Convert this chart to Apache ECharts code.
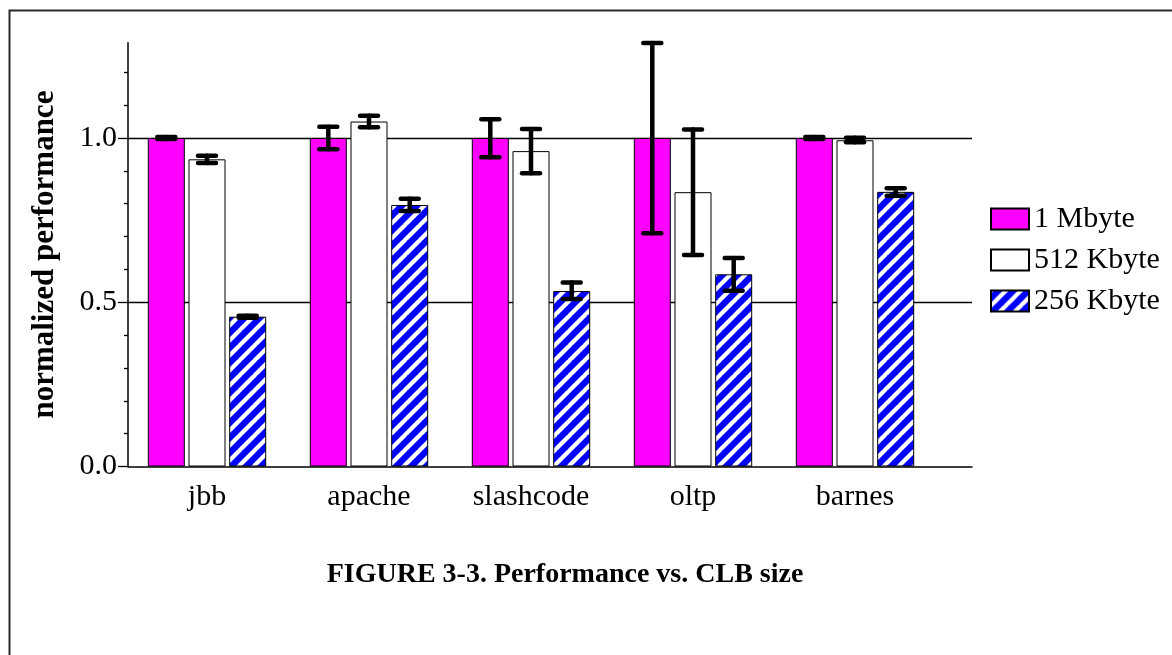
<!DOCTYPE html>
<html>
<head>
<meta charset="utf-8">
<script src="https://cdn.jsdelivr.net/npm/echarts@6/dist/echarts.min.js"></script>
<style>
html,body{margin:0;padding:0;background:#fff;}
#chart{width:1172px;height:655px;}
</style>
</head>
<body>
<div id="chart"></div>
<script>
// ---- data ----
var categories = ['jbb', 'apache', 'slashcode', 'oltp', 'barnes'];
var seriesNames = ['1 Mbyte', '512 Kbyte', '256 Kbyte'];
var mb1 = [1.0, 1.0, 1.0, 1.0, 1.0];
var kb512 = [0.935, 1.050, 0.960, 0.835, 0.993];
var kb256 = [0.456, 0.796, 0.534, 0.585, 0.836];
var mb1Low = [0.997, 0.966, 0.941, 0.710, 0.997];
var mb1High = [1.003, 1.034, 1.057, 1.289, 1.003];
var kb512Low = [0.924, 1.033, 0.893, 0.644, 0.987];
var kb512High = [0.946, 1.068, 1.027, 1.026, 1.001];
var kb256Low = [0.453, 0.778, 0.510, 0.535, 0.824];
var kb256High = [0.459, 0.815, 0.560, 0.635, 0.847];
var yTickLabels = [0, 0.5, 1.0];
var yMinorTicks = [0.1, 0.2, 0.3, 0.4, 0.6, 0.7, 0.8, 0.9, 1.1, 1.2];
var yMax = 1.29;

// ---- styles ----
var FONT = 'Liberation Serif';
var BAR_W = 37;
var BAR_GAP_RATIO = 0.1;

function makeHatch() {
  var s = 15;
  var c = document.createElement('canvas');
  c.width = s; c.height = s;
  var g = c.getContext('2d');
  g.fillStyle = '#0000ff';
  g.fillRect(0, 0, s, s);
  g.strokeStyle = '#ffffff';
  g.lineWidth = 4.2;
  for (var k = -s; k <= s; k += s) {
    g.beginPath();
    g.moveTo(k - 1, s + 1);
    g.lineTo(k + s + 1, -1);
    g.stroke();
  }
  return c;
}
var hatch = makeHatch();

var barColors = ['#ff00ff', '#ffffff', {image: hatch, repeat: 'repeat'}];
var barData = [mb1, kb512, kb256];
var errData = [[mb1Low, mb1High], [kb512Low, kb512High], [kb256Low, kb256High]];

var series = [];
barData.forEach(function (d, k) {
  series.push({
    name: seriesNames[k],
    type: 'bar',
    xAxisIndex: 0,
    yAxisIndex: 0,
    data: d,
    barWidth: BAR_W,
    barGap: (BAR_GAP_RATIO * 100) + '%',
    itemStyle: {color: barColors[k], borderColor: '#000', borderWidth: 1},
    emphasis: {disabled: true},
    z: 2
  });
});

errData.forEach(function (e, k) {
  var offset = (k - 1) * BAR_W * (1 + BAR_GAP_RATIO);
  series.push({
    name: 'err' + k,
    type: 'custom',
    xAxisIndex: 0,
    yAxisIndex: 0,
    z: 5,
    silent: true,
    encode: {x: 0, y: [1, 2]},
    data: categories.map(function (c, i) { return [i, e[0][i], e[1][i]]; }),
    renderItem: function (params, api) {
      var i = api.value(0);
      var pHi = api.coord([i, api.value(2)]);
      var pLo = api.coord([i, api.value(1)]);
      var cx = pHi[0] + offset;
      var hw = 9;
      var st = {stroke: '#000', lineWidth: 4.5, lineCap: 'round'};
      return {
        type: 'group',
        children: [
          {type: 'line', shape: {x1: cx, y1: pHi[1], x2: cx, y2: pLo[1]}, style: st},
          {type: 'line', shape: {x1: cx - hw, y1: pHi[1], x2: cx + hw, y2: pHi[1]}, style: st},
          {type: 'line', shape: {x1: cx - hw, y1: pLo[1], x2: cx + hw, y2: pLo[1]}, style: st}
        ]
      };
    }
  });
});

var chart = echarts.init(document.getElementById('chart'), null, {renderer: 'canvas'});
chart.setOption({
  animation: false,
  backgroundColor: '#ffffff',
  textStyle: {fontFamily: FONT},
  grid: [
    {left: 126, top: 42.7, width: 810, bottom: 188.5, containLabel: false},
    {left: 128, top: 42.7, width: 844, bottom: 188.5, containLabel: false}
  ],
  legend: {
    data: seriesNames,
    orient: 'vertical',
    left: 985,
    top: 199,
    itemWidth: 38,
    itemHeight: 21,
    itemGap: 11,
    selectedMode: false,
    icon: 'rect',
    textStyle: {fontFamily: FONT, fontSize: 30, color: '#000', lineHeight: 30}
  },
  xAxis: [
    {
      type: 'category', gridIndex: 0, data: categories,
      axisLine: {show: false}, axisTick: {show: false},
      axisLabel: {fontFamily: FONT, fontSize: 30, color: '#000', margin: 16, lineHeight: 30}
    },
    {
      type: 'value', gridIndex: 1, min: 0, max: 1,
      axisLine: {show: true, onZero: false, lineStyle: {color: '#000', width: 1.5}},
      axisTick: {show: false}, axisLabel: {show: false}, splitLine: {show: false}
    }
  ],
  yAxis: [
    {type: 'value', gridIndex: 0, min: 0, max: yMax, show: false},
    {
      type: 'value', gridIndex: 1, position: 'left', min: 0, max: yMax, interval: 0.5,
      name: 'normalized performance', nameLocation: 'middle', nameGap: 68,
      nameTextStyle: {fontFamily: FONT, fontSize: 31, fontWeight: 'bold', color: '#000'},
      axisLine: {show: true, lineStyle: {color: '#000', width: 1.5}},
      axisTick: {show: true, length: 10, customValues: yTickLabels, lineStyle: {color: '#000', width: 1.3}},
      axisLabel: {
        customValues: yTickLabels, fontFamily: FONT, fontSize: 30, color: '#000', margin: 11,
        formatter: function (v) { return v.toFixed(1); }
      },
      splitLine: {show: true, showMinLine: false, lineStyle: {color: '#000', width: 1.3}}
    },
    {
      type: 'value', gridIndex: 1, position: 'left', offset: 0, min: 0, max: yMax,
      axisLine: {show: false},
      axisTick: {show: true, length: 4, customValues: yMinorTicks, lineStyle: {color: '#000', width: 1.3}},
      axisLabel: {show: false},
      splitLine: {show: false}
    }
  ],
  graphic: [
    {type: 'rect', shape: {x: 9.5, y: 10.5, width: 1300, height: 800}, style: {fill: 'none', stroke: '#2b2b2b', lineWidth: 2}, silent: true, z: 100},
    {type: 'text', x: 565, y: 575, style: {text: 'FIGURE 3-3. Performance vs. CLB size', font: 'bold 28px "Liberation Serif"', fill: '#000', textAlign: 'center', textVerticalAlign: 'middle'}, silent: true}
  ],
  series: series
});
</script>
</body>
</html>
